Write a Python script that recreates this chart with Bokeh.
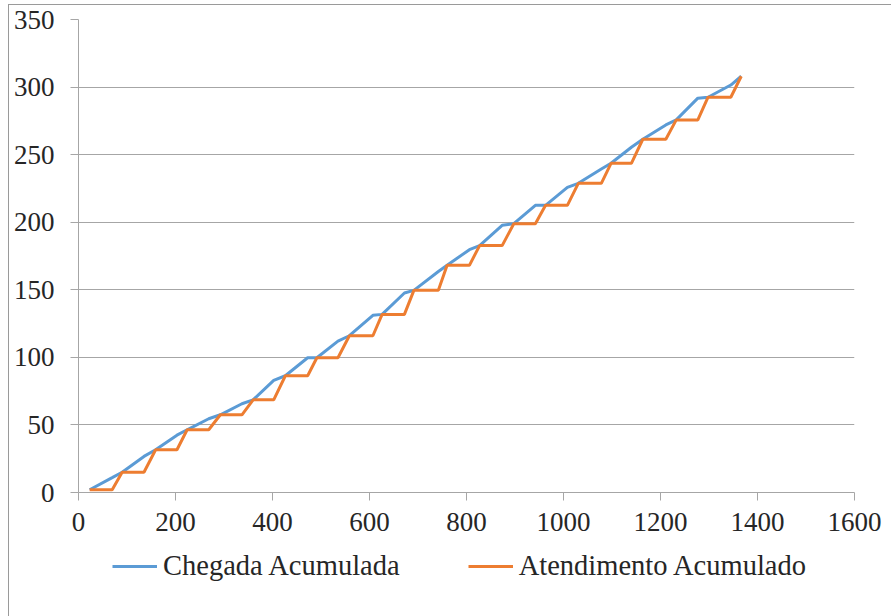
from bokeh.plotting import figure
from bokeh.layouts import column
from bokeh.models import Range1d, FixedTicker, Legend, LegendItem
from bokeh.embed import file_html
from bokeh.resources import INLINE

# Data
tempo = [23, 69.5, 90, 135, 159, 203, 224, 268.5, 292.5, 337, 360, 402.5, 426.5,
         472.5, 491.5, 535, 558.5, 607, 626, 672, 691.5, 742, 760, 806, 827,
         873.5, 897.5, 942, 963, 1008, 1030.5, 1078, 1098, 1140, 1163.5, 1211,
         1232.5, 1277, 1298, 1345, 1366.5]
chegada = [2, 11, 15, 26.7, 31.6, 42.4, 46.4, 54.6, 57.5, 65.7, 68.6, 82.9, 86.4,
           99.7, 99.7, 112, 116, 131.1, 131.8, 147.6, 149.6, 163.5, 168.1, 179.7,
           182.7, 197.7, 198.9, 212.5, 212.5, 225.8, 228.8, 239.4, 243.6, 255.5,
           261.4, 272, 275.7, 291.8, 292.5, 301.5, 308]
atendimento = [2, 2, 15, 15, 31.6, 31.6, 46.4, 46.4, 57.5, 57.5, 68.6, 68.6, 86.4,
               86.4, 99.7, 99.7, 116, 116, 131.8, 131.8, 149.6, 149.6, 168.1, 168.1,
               182.7, 182.7, 198.9, 198.9, 212.5, 212.5, 228.8, 228.8, 243.6, 243.6,
               261.4, 261.4, 275.7, 275.7, 292.5, 292.5, 308]
x_ticks = [0, 200, 400, 600, 800, 1000, 1200, 1400, 1600]
y_ticks = [0, 50, 100, 150, 200, 250, 300, 350]
series_names = ["Chegada Acumulada", "Atendimento Acumulado"]
colors = ["#5b9bd5", "#ed7d31"]

FONT = "Liberation Serif"
FSIZE = "27px"
GRID = "#a6a6a6"

p = figure(width=882, height=540, output_backend="svg", toolbar_location=None,
           x_range=Range1d(0, 1600), y_range=Range1d(0, 350),
           min_border_left=69, min_border_right=37, min_border_top=14,
           min_border_bottom=53)
p.outline_line_color = None
p.background_fill_color = "white"
p.border_fill_color = "white"
p.xgrid.grid_line_color = None
p.ygrid.grid_line_color = GRID
p.ygrid.grid_line_width = 1

for ax, ticks in ((p.xaxis[0], x_ticks), (p.yaxis[0], y_ticks)):
    ax.ticker = FixedTicker(ticks=ticks)
    ax.axis_line_color = GRID
    ax.axis_line_width = 1
    ax.major_tick_line_color = GRID
    ax.major_tick_out = 8
    ax.major_tick_in = 0
    ax.minor_tick_line_color = None
    ax.major_label_text_font = FONT
    ax.major_label_text_font_size = FSIZE
    ax.major_label_text_color = "#262626"
p.xaxis[0].major_label_standoff = 12
p.yaxis[0].major_label_standoff = 16

p.line(tempo, chegada, line_color=colors[0], line_width=3)
p.line(tempo, atendimento, line_color=colors[1], line_width=3)

# Legend strip below the plot (its series lie outside this strip's ranges)
q = figure(width=882, height=71, output_backend="svg", toolbar_location=None,
           x_range=Range1d(0, 1), y_range=Range1d(0, 1),
           min_border_left=69, min_border_right=37, min_border_top=0,
           min_border_bottom=0)
q.axis.visible = False
q.grid.grid_line_color = None
q.outline_line_color = None
q.background_fill_color = "white"
q.border_fill_color = "white"
k1 = q.line(tempo, chegada, line_color=colors[0], line_width=3)
k2 = q.line(tempo, atendimento, line_color=colors[1], line_width=3)

legend = Legend(items=[LegendItem(label=series_names[0], renderers=[k1]),
                       LegendItem(label=series_names[1], renderers=[k2])],
                orientation="horizontal", location=(34, 34))
legend.label_text_font = FONT
legend.label_text_font_size = "28.5px"
legend.label_text_color = "#262626"
legend.glyph_width = 45
legend.label_standoff = 6
legend.spacing = 68
legend.border_line_color = None
legend.background_fill_alpha = 0
legend.padding = 4
legend.margin = 0
q.add_layout(legend, "center")

layout = column(p, q, spacing=0)
layout.margin = (4, 0, 0, 8)
layout.styles = {"border-left": "1px solid #9a9a9a", "border-top": "1px solid #9a9a9a"}

open("out.html", "w").write(file_html(layout, INLINE))
